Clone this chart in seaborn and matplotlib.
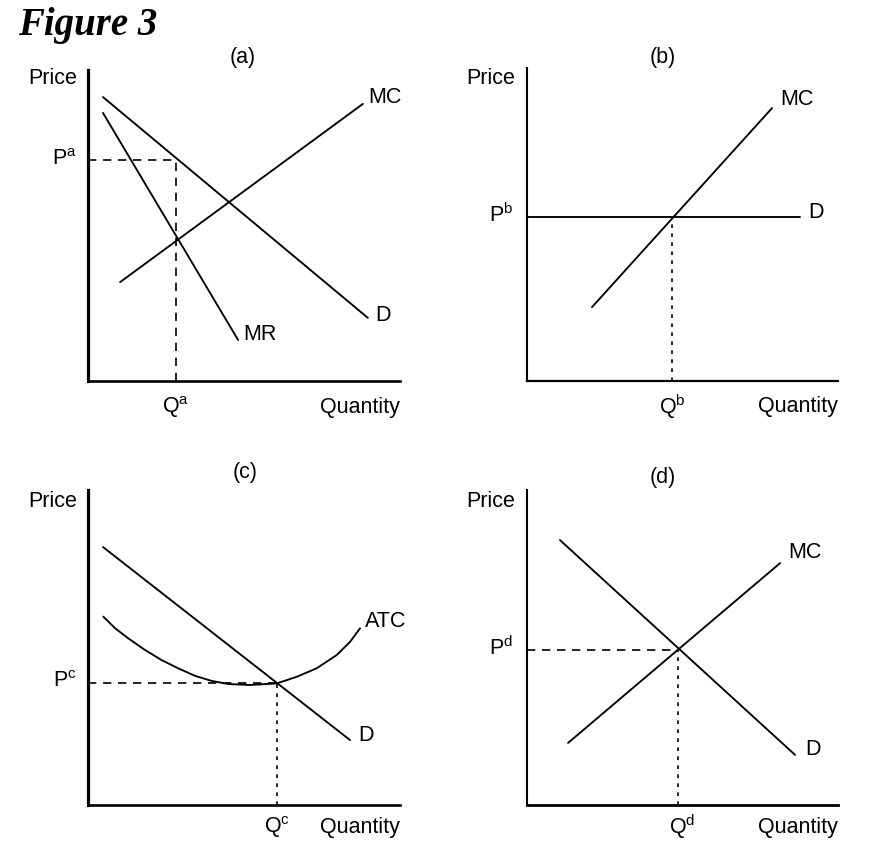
import matplotlib
matplotlib.use("Agg")
import matplotlib.pyplot as plt
import seaborn as sns
import pandas as pd

# panel (a): monopoly
a_d_x = [0.48, 8.97]
a_d_y = [9.13, 2.03]
a_mr_x = [0.48, 4.81]
a_mr_y = [8.62, 1.32]
a_mc_x = [1.03, 8.81]
a_mc_y = [3.18, 8.91]
a_p = 7.11
a_q = 2.82

# panel (b): perfect competition
b_mc_x = [2.09, 7.88]
b_mc_y = [2.36, 8.72]
b_d_x = [0.0, 8.78]
b_d_y = [5.24, 5.24]
b_p = 5.24
b_q = 4.66

# panel (c): D tangent to ATC
c_d_x = [0.48, 8.40]
c_d_y = [8.19, 2.06]
c_atc_x = [0.49, 0.87, 1.29, 1.83, 2.36, 2.89, 3.43, 3.96, 4.50, 5.19,
           6.05, 6.69, 7.33, 7.97, 8.40, 8.72]
c_atc_y = [5.98, 5.61, 5.29, 4.92, 4.60, 4.34, 4.10, 3.94, 3.84, 3.81,
           3.86, 4.07, 4.34, 4.76, 5.18, 5.61]
c_p = 3.86
c_q = 6.05

# panel (d)
d_d_x = [1.06, 8.62]
d_d_y = [8.41, 1.59]
d_mc_x = [1.32, 8.14]
d_mc_y = [1.97, 7.68]
d_p = 4.92
d_q = 4.86

sns.set_theme(style="white")
plt.rcParams["font.family"] = ["Liberation Sans", "DejaVu Sans"]
plt.rcParams["mathtext.fontset"] = "custom"
plt.rcParams["mathtext.rm"] = "Liberation Sans"
plt.rcParams["text.color"] = "black"

fig = plt.figure(figsize=(8.69, 8.52), dpi=100)
W, H = 869, 852


def make_ax(left, top, right, bottom, lw_left, lw_bottom):
    ax = fig.add_axes([left / W, 1 - bottom / H, (right - left) / W, (bottom - top) / H])
    ax.set_xticks([])
    ax.set_yticks([])
    for s in ["top", "right"]:
        ax.spines[s].set_visible(False)
    ax.spines["left"].set_linewidth(lw_left)
    ax.spines["bottom"].set_linewidth(lw_bottom)
    ax.spines["left"].set_color("black")
    ax.spines["bottom"].set_color("black")
    ax.patch.set_alpha(0)
    return ax


def curve(ax, xs, ys):
    df = pd.DataFrame({"x": xs, "y": ys})
    sns.lineplot(data=df, x="x", y="y", ax=ax, color="black", linewidth=1.35,
                 estimator=None, sort=False)


def finish(ax):
    ax.set_xlim(0, 10)
    ax.set_ylim(0, 10)
    ax.set_xlabel("")
    ax.set_ylabel("")
    ax.set_xticks([])
    ax.set_yticks([])


FS = 15.5
LONG = (0, (5, 4))
SHORT = (0, (2.2, 3.2))

# (a)
ax = make_ax(88, 70, 400, 381, 2.3, 1.9)
curve(ax, a_d_x, a_d_y)
curve(ax, a_mr_x, a_mr_y)
curve(ax, a_mc_x, a_mc_y)
ax.plot([0, a_q], [a_p, a_p], color="black", lw=1.2, ls=LONG)
ax.plot([a_q, a_q], [0, a_p], color="black", lw=1.2, ls=LONG)
finish(ax)
ax.text(4.97, 10.39, "(a)", ha="center", va="center", fontsize=FS)
ax.text(-0.35, 9.74, "Price", ha="right", va="center", fontsize=FS)
ax.text(-0.35, a_p, r"P$^{\mathrm{a}}$", ha="right", va="center", fontsize=FS)
ax.text(8.97, 9.13, "MC", ha="left", va="center", fontsize=FS)
ax.text(9.2, 2.12, "D", ha="left", va="center", fontsize=FS)
ax.text(4.97, 1.48, "MR", ha="left", va="center", fontsize=FS)
ax.text(a_q, -0.84, r"Q$^{\mathrm{a}}$", ha="center", va="center", fontsize=FS)
ax.text(10.0, -0.84, "Quantity", ha="right", va="center", fontsize=FS)

# (b)
ax = make_ax(527, 68, 838, 381, 1.5, 1.6)
curve(ax, b_mc_x, b_mc_y)
curve(ax, b_d_x, b_d_y)
ax.plot([b_q, b_q], [0, b_p], color="black", lw=1.2, ls=SHORT)
finish(ax)
ax.text(4.37, 10.35, "(b)", ha="center", va="center", fontsize=FS)
ax.text(-0.39, 9.68, "Price", ha="right", va="center", fontsize=FS)
ax.text(-0.45, b_p + 0.06, r"P$^{\mathrm{b}}$", ha="right", va="center", fontsize=FS)
ax.text(8.13, 8.98, "MC", ha="left", va="center", fontsize=FS)
ax.text(9.04, 5.37, "D", ha="left", va="center", fontsize=FS)
ax.text(b_q, -0.83, r"Q$^{\mathrm{b}}$", ha="center", va="center", fontsize=FS)
ax.text(10.0, -0.83, "Quantity", ha="right", va="center", fontsize=FS)

# (c)
ax = make_ax(88, 490, 400, 805, 2.3, 1.9)
curve(ax, c_d_x, c_d_y)
curve(ax, c_atc_x, c_atc_y)
ax.plot([0, c_q], [c_p, c_p], color="black", lw=1.2, ls=LONG)
ax.plot([c_q, c_q], [0, c_p], color="black", lw=1.2, ls=SHORT)
finish(ax)
ax.text(5.03, 10.54, "(c)", ha="center", va="center", fontsize=FS)
ax.text(-0.35, 9.62, "Price", ha="right", va="center", fontsize=FS)
ax.text(-0.35, c_p + 0.06, r"P$^{\mathrm{c}}$", ha="right", va="center", fontsize=FS)
ax.text(8.88, 5.81, "ATC", ha="left", va="center", fontsize=FS)
ax.text(8.65, 2.22, "D", ha="left", va="center", fontsize=FS)
ax.text(c_q, -0.7, r"Q$^{\mathrm{c}}$", ha="center", va="center", fontsize=FS)
ax.text(10.0, -0.7, "Quantity", ha="right", va="center", fontsize=FS)

# (d)
ax = make_ax(527, 490, 838, 805, 1.5, 2.0)
curve(ax, d_d_x, d_d_y)
curve(ax, d_mc_x, d_mc_y)
ax.plot([0, d_q], [d_p, d_p], color="black", lw=1.2, ls=LONG)
ax.plot([d_q, d_q], [0, d_p], color="black", lw=1.2, ls=SHORT)
finish(ax)
ax.text(4.37, 10.41, "(d)", ha="center", va="center", fontsize=FS)
ax.text(-0.39, 9.62, "Price", ha="right", va="center", fontsize=FS)
ax.text(-0.45, d_p + 0.06, r"P$^{\mathrm{d}}$", ha="right", va="center", fontsize=FS)
ax.text(8.39, 8.0, "MC", ha="left", va="center", fontsize=FS)
ax.text(8.94, 1.75, "D", ha="left", va="center", fontsize=FS)
ax.text(d_q + 0.12, -0.7, r"Q$^{\mathrm{d}}$", ha="center", va="center", fontsize=FS)
ax.text(10.0, -0.7, "Quantity", ha="right", va="center", fontsize=FS)

fig.text(18 / W, 1 - 25 / H, "Figure 3", ha="left", va="center", fontsize=28,
         fontweight="bold", fontstyle="italic", color="black",
         family=["Liberation Serif", "DejaVu Serif"])

fig.savefig("out.png", dpi=100)
